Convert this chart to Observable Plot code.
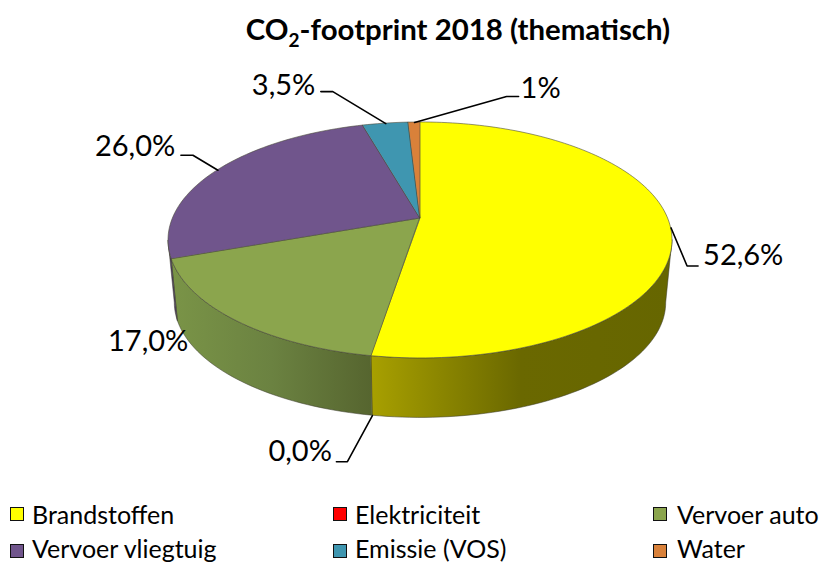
<!DOCTYPE html>
<html>
<head>
<meta charset="utf-8">
<script src="https://cdn.jsdelivr.net/npm/d3@7"></script>
<script src="https://cdn.jsdelivr.net/npm/@observablehq/plot@0.6"></script>
<style>
html,body{margin:0;padding:0;background:#fff;overflow:hidden}
#page{position:relative;width:820px;height:562px;font-family:Lato,sans-serif;color:#000;overflow:hidden}
#title{position:absolute;left:0;top:10px;width:916px;text-align:center;font-weight:700;font-size:29.4px;line-height:38px;white-space:nowrap}
#title sub{font-size:19px;line-height:0}
#chart{position:absolute;left:0;top:62px}
.leg{position:absolute;font-size:25px;line-height:26px;white-space:nowrap}
.sw{position:absolute;width:12px;height:12px;border:1.5px solid #111}
</style>
</head>
<body>
<div id="page">
  <div id="title">CO<sub>2</sub>-footprint 2018 (thematisch)</div>
  <div id="chart"></div>
</div>
<script>
// ---- data ----
const categories = ["Brandstoffen","Elektriciteit","Vervoer auto","Vervoer vliegtuig","Emissie (VOS)","Water"];
const shares     = [52.6, 0.0, 17.0, 26.0, 3.5, 0.9];
const shareLabels = ["52,6%","0,0%","17,0%","26,0%","3,5%","1%"];
const colors = ["#ffff00","#ff0000","#8ba54d","#70558c","#3f96b0","#d9813a"];

// ---- layout of labels (pixel offsets from the slice's rim point) ----
const labelOffsets = [[32,28],[-104,36],[-127,21],[-123,-24],[-134,-38],[106,-34]];
const leaderBends  = [[[16,38],[27,38]],[[-25,46],[-36,46]],null,[[-25,-15],[-37,-15]],[[-53,-32],[-65,-32]],[[92,-26],[104,-26]]];
const labelOnLowerRim = [false,true,false,false,false,false];
const legendX = [[10,32],[333,355],[653,677]];
const legendSwatchY = [514,551];
const legendTextY = [514,548];

// ---- pie geometry (perspective of a tilted disc, in radius units) ----
const W = 820, H = 428, R = 247.6, cxPx = 420, cyPx = 156;
const tilt = 0.46, persp = 0.186, lowerScale = 0.975, depth = 63 / R;
const rad = a => a * Math.PI / 180;
function rim(a, lower) {
  const X = Math.sin(rad(a)), Y = Math.cos(rad(a)), d = 1 + persp * Y, s = lower ? lowerScale : 1;
  return {x: s * X / d, y: s * tilt * Y / d - (lower ? depth : 0)};
}
function arcAngles(a0, a1) {
  const n = Math.max(2, Math.ceil(Math.abs(a1 - a0) / 1.5) + 1);
  return d3.range(n).map(i => a0 + (a1 - a0) * i / (n - 1));
}
const total = d3.sum(shares);
let run = 0;
const slices = categories.map((name, i) => {
  const a0 = run / total * 360; run += shares[i];
  const a1 = run / total * 360;
  return {name, i, a0, a1, mid: (a0 + a1) / 2, color: colors[i]};
});

const x = {domain: [-cxPx / R, (W - cxPx) / R], range: [0, W], axis: null};
const y = {domain: [(cyPx - H) / R, cyPx / R], range: [H, 0], axis: null};

const area = (pts, fill, stroke, sw) => Plot.area(pts, {
  x1: "x0", y1: "y0", x2: "x", y2: "y", curve: "linear", fill, stroke, strokeWidth: sw, strokeOpacity: 0.75
});

// ---- side walls: the part of the rim that faces the viewer ----
const sideStart = 180 - Math.acos(persp) * 180 / Math.PI;   // right silhouette
const sideEnd = 360 - sideStart;
const sideFills = {0: "url(#side0)", 2: "url(#side2)", 3: "#4f3f63"};
const sideMarks = slices
  .filter(s => s.a1 > s.a0 && s.a1 > sideStart && s.a0 < sideEnd)
  .map(s => {
    const pts = arcAngles(Math.max(s.a0, sideStart), Math.min(s.a1, sideEnd)).map(a => {
      const t = rim(a, false), b = rim(a, true);
      return {x0: t.x, y0: t.y, x: b.x, y: b.y};
    });
    return area(pts, sideFills[s.i] || s.color, "#3c3c2c", 0.7);
  });

// ---- top face ----
const topMarks = slices.filter(s => s.a1 > s.a0).map(s => {
  const pts = arcAngles(s.a0, s.a1).map(a => ({x0: 0, y0: 0, ...rim(a, false)}));
  return area(pts, s.color, "#4a4a3a", 0.8);
});

// ---- labels ----
const px = o => ({dx: o[0] / R, dy: -o[1] / R});
const labels = slices.map((s, i) => {
  const p = rim(s.mid, labelOnLowerRim[i]), o = px(labelOffsets[i]);
  return {text: shareLabels[i], x: p.x + o.dx, y: p.y + o.dy};
});
const leaders = slices.flatMap((s, i) => {
  if (!leaderBends[i]) return [];
  const p = rim(s.mid, labelOnLowerRim[i]);
  return [{i, x: p.x, y: p.y}, ...leaderBends[i].map(b => {
    const o = px(b);
    return {i, x: p.x + o.dx, y: p.y + o.dy};
  })];
});

const defs = () => {
  const svgNS = "http://www.w3.org/2000/svg";
  const d = document.createElementNS(svgNS, "defs");
  const stops = {
    side0: [[0,"#a8a000"],[0.23,"#8b8600"],[0.5,"#6a6800"],[1,"#666600"]],
    side2: [[0,"#7a9447"],[0.5,"#6b8241"],[1,"#56652f"]]
  };
  for (const id in stops) {
    const g = document.createElementNS(svgNS, "linearGradient");
    g.setAttribute("id", id);
    for (const [o, c] of stops[id]) {
      const st = document.createElementNS(svgNS, "stop");
      st.setAttribute("offset", o); st.setAttribute("stop-color", c);
      g.appendChild(st);
    }
    d.appendChild(g);
  }
  return d;
};

const chart = Plot.plot({
  width: W, height: H, margin: 0, x, y,
  style: {background: "transparent", overflow: "visible"},
  marks: [
    defs,
    ...sideMarks,
    ...topMarks,
    Plot.line(leaders, {x: "x", y: "y", z: "i", stroke: "#000", strokeWidth: 1.6, curve: "linear"}),
    Plot.text(labels, {x: "x", y: "y", text: "text", textAnchor: "start", lineAnchor: "middle",
      fontSize: 29, fontFamily: "Lato, sans-serif", fill: "#000"})
  ]
});
document.getElementById("chart").appendChild(chart);

// ---- legend ----
const page = document.getElementById("page");
categories.forEach((name, i) => {
  const col = legendX[i % 3], row = Math.floor(i / 3);
  const sw = document.createElement("div");
  sw.className = "sw";
  sw.style.cssText = `left:${col[0]}px;top:${legendSwatchY[row] - 7}px;background:${colors[i]}`;
  const t = document.createElement("div");
  t.className = "leg";
  t.textContent = name;
  t.style.cssText = `left:${col[1]}px;top:${legendTextY[row] - 13}px`;
  page.append(sw, t);
});
</script>
</body>
</html>
